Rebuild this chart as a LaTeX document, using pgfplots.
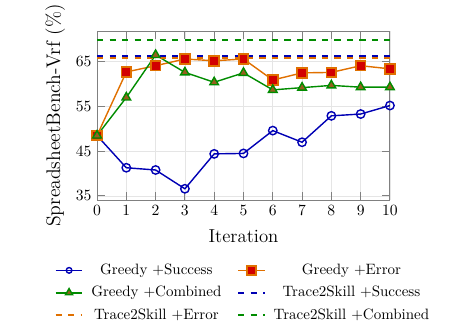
\documentclass[border=0pt]{standalone}
\usepackage{pgfplots}
\pgfplotsset{compat=1.18}
\definecolor{cBlue}{RGB}{0,0,180}
\definecolor{cOrange}{RGB}{224,112,0}
\definecolor{cRed}{RGB}{210,0,0}
\definecolor{cGreen}{RGB}{0,140,0}
\definecolor{cOlive}{RGB}{150,95,30}
\definecolor{cFrame}{RGB}{128,128,128}
\begin{document}
\begin{tikzpicture}
\useasboundingbox (-62.1pt,-83.2pt) rectangle (234.9pt,128pt);
\begin{axis}[
  at={(0pt,0pt)}, anchor=south west,
  scale only axis,
  width=187.5pt, height=108pt,
  xmin=0, xmax=10, ymin=34.1, ymax=71.8,
  xtick={0,...,10},
  ytick={35,45,55,65},
  grid=major,
  major grid style={draw=gray!20, line width=0.5pt},
  axis line style={draw=cFrame, line width=0.6pt},
  tick style={draw=cFrame, line width=0.6pt},
  major tick length=5pt,
  tick align=inside,
  ticklabel style={font=\normalsize},
  xlabel={Iteration},
  ylabel={SpreadsheetBench-Vrf (\%)},
  xlabel style={font=\large, yshift=-2pt},
  ylabel style={font=\fontsize{12.6}{14}\selectfont, yshift=0pt},
  legend columns=2,
  legend cell align=center,
  legend style={at={(0.5,-0.34)}, anchor=north, draw=none, fill=none,
    font=\fontsize{9.6}{11}\selectfont, row sep=2pt,
    /tikz/every odd column/.append style={column sep=3pt},
    /tikz/every even column/.append style={column sep=8pt}},
]
\addplot[cBlue, line width=0.9pt, mark=o, mark size=2.7pt,
  mark options={line width=0.9pt},
  legend image post style={mark size=1.8pt, line width=1.1pt}] coordinates {
  (0,48.5) (1,41.3) (2,40.8) (3,36.6) (4,44.4) (5,44.5)
  (6,49.6) (7,47.0) (8,52.9) (9,53.3) (10,55.2)};
\addlegendentry{Greedy +Success}
\addplot[cOrange, line width=0.9pt, mark=square*, mark size=3.1pt,
  mark options={fill=cRed, draw=cOrange, line width=1.2pt},
  legend image post style={mark size=2.8pt, line width=1.1pt}] coordinates {
  (0,48.5) (1,62.7) (2,64.1) (3,65.6) (4,65.2) (5,65.6)
  (6,60.9) (7,62.5) (8,62.6) (9,64.1) (10,63.4)};
\addlegendentry{Greedy +Error}
\addplot[cGreen, line width=0.9pt, mark=triangle*, mark size=3.2pt,
  mark options={fill=cOlive, draw=cGreen, line width=0.9pt},
  legend image post style={mark size=2.6pt, line width=1.1pt}] coordinates {
  (0,48.5) (1,57.0) (2,66.5) (3,62.6) (4,60.4) (5,62.5)
  (6,58.7) (7,59.2) (8,59.7) (9,59.3) (10,59.3)};
\addlegendentry{Greedy +Combined}
\addplot[cBlue, line width=1.4pt, dash pattern=on 4pt off 4pt] coordinates {(0,66.35) (10,66.35)};
\addlegendentry{Trace2Skill +Success}
\addplot[cOrange, line width=1.4pt, dash pattern=on 4pt off 4pt] coordinates {(0,65.9) (10,65.9)};
\addlegendentry{Trace2Skill +Error}
\addplot[cGreen, line width=1.4pt, dash pattern=on 4pt off 4pt] coordinates {(0,69.8) (10,69.8)};
\addlegendentry{Trace2Skill +Combined}
\end{axis}
\end{tikzpicture}
\end{document}
